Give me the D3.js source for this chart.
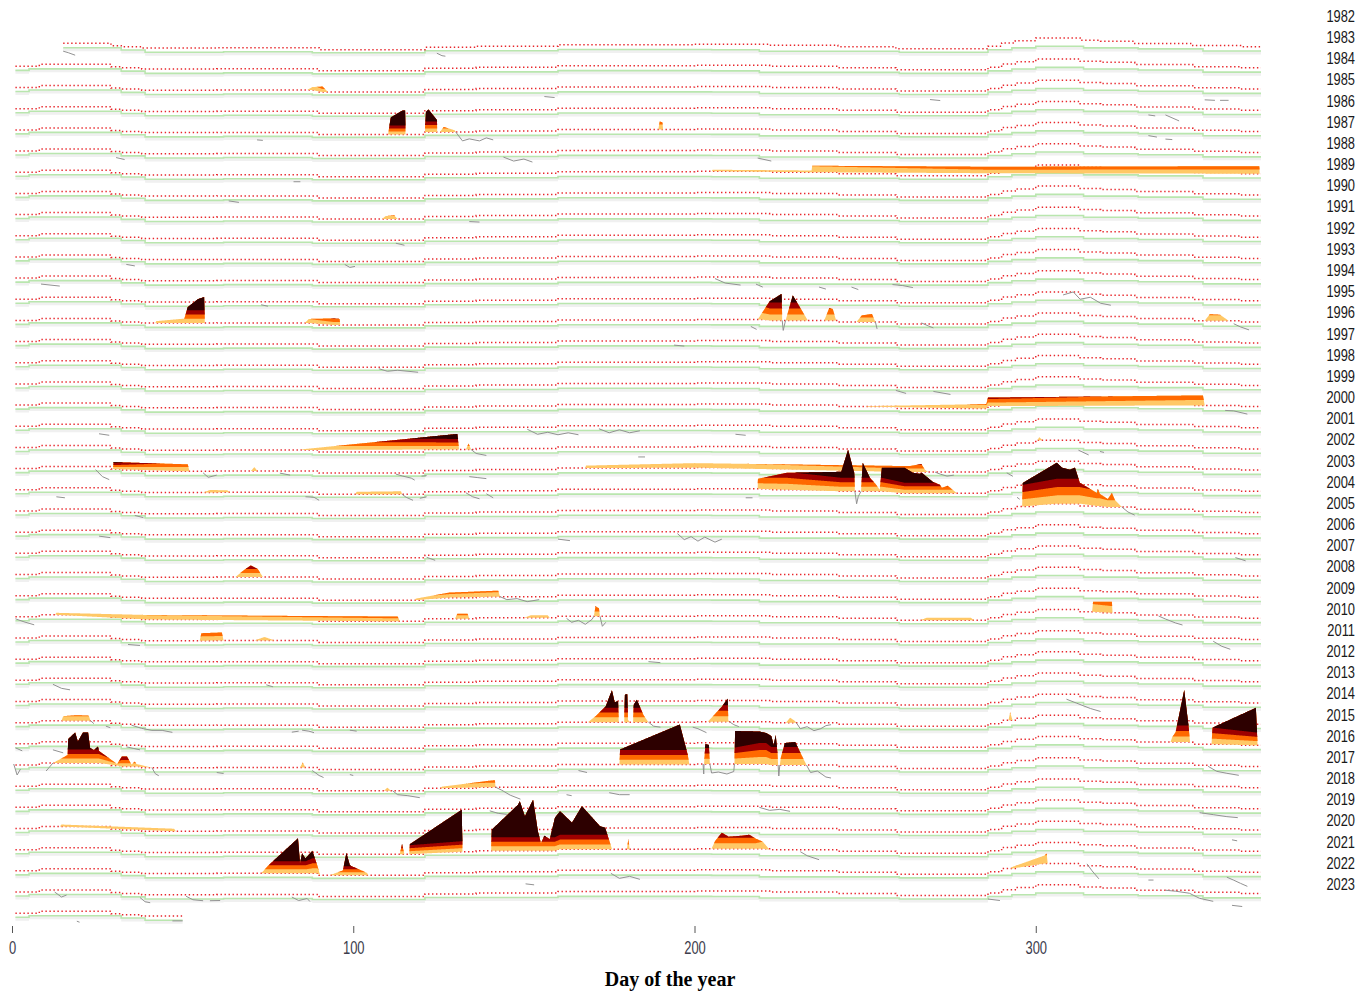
<!DOCTYPE html>
<html lang="en">
<head>
<meta charset="UTF-8">
<script src="https://d3js.org/d3.v7.min.js"></script>
<style>
  body { margin: 0; background: #fff; }
</style>
</head>
<body>
<svg id="chart" width="1360" height="992"></svg>
<script>

// one row per year
var years = [1982, 1983, 1984, 1985, 1986, 1987, 1988, 1989, 1990, 1991, 1992, 1993, 1994, 1995,
             1996, 1997, 1998, 1999, 2000, 2001, 2002, 2003, 2004, 2005, 2006, 2007, 2008, 2009,
             2010, 2011, 2012, 2013, 2014, 2015, 2016, 2017, 2018, 2019, 2020, 2021, 2022, 2023];
var firstRowStart = 15;   // series begins mid January 1982
var lastRowEnd = 50;      // and stops in February 2023
var dayTicks = [0, 100, 200, 300];

// seasonal threshold (red dotted) and climatology (green), degC, stepped by day of year
var threshDays = [0, 8, 29, 32, 38, 60, 90, 121, 136, 160, 200, 222, 242, 259, 286, 290, 294, 300, 313, 319, 329, 346, 360];
var threshTemp = [14.9, 15.3, 14.8, 14.6, 14.36, 14.4, 14.0, 14.5, 14.7, 15.0, 15.1, 14.9, 14.6, 14.2, 14.7, 15.36, 15.8, 16.36, 15.9, 15.7, 15.26, 14.84, 14.6];
var climDays = [0, 5, 32, 39, 62, 88, 121, 160, 205, 219, 260, 286, 293, 300, 314, 330, 349];
var climTemp = [14.1, 14.4, 13.94, 13.5, 13.6, 13.4, 13.8, 14.04, 14.0, 13.7, 13.5, 14.0, 14.36, 14.7, 14.36, 14.16, 13.74];

// heatwave events: [year, [[day, degC above threshold], ...]]
var heatwaves = [
  [1984, [[86.5,0],[88,0.6],[91,1.1],[92.6,0]]],
  [1986, [[110.2,0],[111,3.4],[112.5,4.0],[114.5,4.8],[115.2,4.8],[115.3,0]]],
  [1986, [[121,0],[121.3,4.0],[122,4.5],[124.5,2.4],[124.6,0]]],
  [1986, [[125.4,0],[126.5,1.0],[129.8,0.3],[130,0]]],
  [1986, [[189.4,0],[189.8,1.6],[190.6,1.4],[190.8,0]]],
  [1988, [[205,0],[205.3,0.3],[234.3,0.35],[234.5,1.3],[286,1.3],[365.5,1.5],[365.6,0]]],
  [1990, [[108.4,0],[109.5,0.6],[112,0.75],[113,0]]],
  [1995, [[42,0],[42.3,0.4],[50.5,0.9],[51.5,3.2],[54.5,4.8],[56.3,5.2],[56.5,0]]],
  [1995, [[85.8,0],[87,0.8],[94,1.3],[96,1.2],[96.2,0]]],
  [1995, [[218.5,0],[219,0.5],[222,3.8],[225.5,5.3],[225.7,0]]],
  [1995, [[226.7,0],[228.8,5.0],[233.2,0]]],
  [1995, [[238,0],[239.5,2.5],[240.5,2.3],[241.5,0]]],
  [1995, [[247.5,0],[249,1.3],[252,1.6],[253,0]]],
  [1995, [[349.5,0],[351,1.3],[354,1.2],[356.5,0]]],
  [1999, [[250,0],[250.5,0.1],[285.5,0.9],[286,1.7],[349,2.0],[349.5,0]]],
  [2001, [[84.5,0],[86,0.2],[130.5,3.1],[131,0]]],
  [2001, [[133,0],[133.8,1.2],[134.5,0]]],
  [2001, [[300.5,0],[301,0.6],[302,0]]],
  [2002, [[29.6,0],[29.8,1.4],[51.5,1.4],[52,0]]],
  [2002, [[70,0],[71,0.8],[72,0]]],
  [2002, [[168,0],[168.2,0.5],[200,0.9],[263,1.2],[266.5,1.6],[267.5,0.5],[268.5,0]]],
  [2003, [[56,0],[58,0.5],[63,0.4],[64,0]]],
  [2003, [[100.5,0],[101,0.5],[114,0.6],[114.3,0]]],
  [2003, [[218.5,0],[218.6,2.0],[227,3.4],[243,3.9],[245,8.3],[246.8,3.7],[247,0],[248.8,0],[249.3,5.7],[251.4,2.7],[253,1.5],[254.3,0.3],[254.9,4.7],[261.6,5.1],[264,4.1],[266,3.9],[266.6,4.1],[269.8,2.3],[271.9,1.7],[272.5,1.1],[274.2,1.5],[276.9,0]]],
  [2004, [[296,0],[296.2,4.7],[306.2,8.2],[307.7,7.2],[310,6.8],[311.5,7.2],[312.9,4.2],[317.9,2.6],[318.2,3.4],[318.8,2.4],[321.1,1.6],[322.3,2.8],[323.2,1.4],[325.2,0]]],
  [2007, [[65.5,0],[68,1.4],[70,2.3],[72,1.6],[73.5,0]]],
  [2008, [[118,0],[118.3,0.3],[128,1.0],[142.5,1.2],[143,0]]],
  [2009, [[12.6,0],[13,0.4],[40,0.9],[113,0.95],[113.7,0]]],
  [2009, [[129.8,0],[130.5,1.0],[133.5,1.0],[134,0]]],
  [2009, [[150,0],[152,0.5],[157,0.5],[157.6,0]]],
  [2009, [[170.5,0],[171,2.0],[172,1.6],[172.3,0]]],
  [2009, [[266,0],[268,0.5],[281,0.5],[282,0]]],
  [2009, [[316.5,0],[316.8,2.0],[322.3,2.2],[322.5,0]]],
  [2010, [[55,0],[55.5,1.5],[61.5,1.6],[62,0]]],
  [2010, [[71,0],[74,0.7],[77,0]]],
  [2014, [[14.5,0],[15,0.9],[19,1.1],[22.5,1.0],[23,0]]],
  [2014, [[168.8,0],[171,1.2],[174,3.2],[175.8,6.4],[176.6,4.0],[177.6,4.2],[177.8,0],[179.4,0],[179.6,5.5],[180.3,5.6],[180.5,0.5],[181,0],[182,0],[182.2,3.5],[183.1,4.5],[185,1.5],[186.5,0]]],
  [2014, [[203.9,0],[208,3.0],[209.7,4.6],[209.9,0.3],[210.2,0]]],
  [2014, [[226.8,0],[228,1.0],[229.5,0.3],[229.8,0]]],
  [2014, [[292,0],[292.5,1.6],[293.2,0]]],
  [2015, [[339.5,0],[340,1.0],[341,2.0],[343.5,10.4],[344.8,3.0],[345.2,0]]],
  [2015, [[351.5,0],[351.8,3.3],[364.5,7.5],[365,0]]],
  [2016, [[12,0],[16.3,1.6],[16.5,4.8],[18.5,6.1],[19.3,4.3],[20.8,6.1],[22.3,6.1],[22.9,3.0],[24,2.6],[25.2,3.3],[25.5,2.4],[30.8,0.3],[32.2,2.0],[33.7,2.0],[35,0.4],[36,1.0],[36.5,0.5],[41,0]]],
  [2016, [[84.4,0],[85.2,1.0],[86,0]]],
  [2016, [[178,0],[178.2,3.0],[195.7,8.0],[198,2.0],[198.5,0]]],
  [2016, [[202.8,0],[203.2,4.0],[204.2,3.8],[204.5,0]]],
  [2016, [[211.7,0],[211.9,6.6],[219,6.5],[221,6.2],[222.5,5.8],[223.2,4.0],[223.8,6.0],[224.3,2.5],[224.5,0]]],
  [2016, [[225,0],[225.3,1.5],[226.5,4.4],[229.5,4.6],[231,2.5],[232.8,0]]],
  [2017, [[109,0],[110,0.6],[111,0]]],
  [2017, [[125.4,0],[126,0.3],[140,1.3],[141.5,1.4],[141.7,0]]],
  [2019, [[14,0],[14.5,0.4],[47.5,0.5],[48,0]]],
  [2020, [[113.6,0],[114.3,2.0],[115,0]]],
  [2020, [[116.4,0],[116.6,2.0],[131.8,8.4],[132,0]]],
  [2020, [[140.4,0],[140.6,4.2],[148.3,9.2],[148.8,9.9],[150.3,6.9],[152.7,10.2],[154.1,3.9],[155,1.5],[156,3.0],[157.6,2.3],[159.1,6.6],[160.6,7.6],[164.1,5.3],[167,8.6],[172.3,4.6],[173.8,4.3],[175.6,0.5],[175.8,0]]],
  [2020, [[180.2,0],[180.6,2.0],[181,0]]],
  [2020, [[205,0],[206,1.5],[208,3.2],[210,2.4],[214,2.6],[216,2.8],[218,2.0],[220,1.4],[222,0]]],
  [2021, [[73,0],[75,1.5],[83.8,7.0],[84.4,2.0],[85,4.0],[86,3.0],[88,4.5],[89.5,1.5],[90.3,0]]],
  [2021, [[93,0],[97,1.0],[98,4.5],[99,2.0],[104,0.5],[104.5,0]]],
  [2021, [[292.5,0],[293,0.3],[302.5,1.6],[303.2,2.0],[303.5,0]]]
];

// stretches of SST below threshold that show as grey line: [year, [[day, degC vs threshold], ...]]
var sstDips = [
  [1982, [[15,-1.6],[16.5,-1.9],[18.5,-2.4]]], [1982, [[124.5,-1.2],[126,-1.7],[127,-1.8]]],
  [1984, [[156,-1.6],[159,-1.8]]], [1984, [[269,-1.7],[272,-1.9]]], [1984, [[349.5,-2.4],[352.5,-2.5]]], [1984, [[354,-2.5],[356.5,-2.5]]],
  [1985, [[333,-1.6],[335,-1.8]]], [1985, [[338,-1.6],[342,-2.8]]],
  [1986, [[333,-1.5],[335.5,-1.8]]], [1986, [[338,-2.2],[340,-2.3]]], [1986, [[71.8,-1.5],[73.5,-1.6]]],
  [1986, [[130,0],[132,-1.8],[134,-1.4],[137,-2.0],[139,-1.4],[141,-1.8]]],
  [1987, [[144,-1.0],[147,-1.8],[150,-1.4],[152.5,-2.0]]], [1987, [[30.5,-1.2],[33,-1.4]]], [1987, [[218.5,-1.6],[222.5,-2.0]]],
  [1988, [[82.5,-1.4],[84.5,-1.4]]],
  [1989, [[63.5,-1.0],[66.5,-1.3]]],
  [1990, [[134,-1.0],[137,-1.3]]],
  [1991, [[112.5,-0.6],[115,-1.0]]],
  [1992, [[33.5,-1.2],[36,-1.5]]], [1992, [[97.5,-0.6],[99,-1.2],[100.5,-1.0]]],
  [1993, [[206,-0.3],[209,-1.2],[213.5,-1.6]]], [1993, [[8.5,-1.6],[14,-2.0]]], [1993, [[218,-1.4],[220,-2.0]]],
  [1993, [[236.5,-1.8],[238.5,-2.2]]], [1993, [[246,-1.5],[248,-2.0]]], [1993, [[258,-1.0],[261,-0.8],[264,-1.2]]],
  [1994, [[308,-0.6],[311,0.0],[313,-1.0],[316,-0.6],[319,-1.6],[322,-2.0]]], [1994, [[73,-0.6],[75,-0.9]]],
  [1995, [[358,-0.6],[360,-1.0],[362.5,-1.6]]], [1995, [[216.5,-1.4],[218.2,-2.0]]], [1995, [[225.7,0],[226,-2.0],[226.5,-0.5],[226.7,0]]],
  [1995, [[253,0],[253.5,-1.4]]], [1995, [[266.5,0.2],[268.5,-0.4],[270,-0.8]]],
  [1996, [[194,-0.8],[197,-1.0]]],
  [1997, [[107.5,-0.3],[110,-0.8],[113,-0.6],[119,-1.0]]],
  [1998, [[259,-0.6],[262,-1.2]]], [1998, [[270,-0.8],[275,-1.4]]],
  [1999, [[355.5,-1.0],[358,-1.1],[362,-1.5]]],
  [2000, [[25.5,-1.9],[28.5,-2.2]]], [2000, [[151,-0.4],[154,-1.4],[157,-1.0],[160,-1.8],[163,-1.4],[166,-1.8]]],
  [2000, [[172,-0.6],[175,-1.4],[178,-0.8],[181,-1.4],[184,-1.0]]], [2000, [[212,-1.8],[215,-2.0]]],
  [2001, [[134.5,0],[136,-1.0],[139,-1.4]]], [2001, [[312.5,-2.0],[315.5,-2.5]]], [2001, [[318.8,-1.8],[320,-1.8]]], [2001, [[183.5,-2.0],[185.5,-2.0]]],
  [2002, [[24.5,-0.6],[26.5,-2.0],[28.5,-2.6]]], [2002, [[56,-0.3],[57.5,-1.2],[60,-0.8]]], [2002, [[78.5,-0.4],[81.5,-0.8]]],
  [2002, [[112.5,-0.2],[114.5,-0.6],[117,-1.0],[118,-1.4]]], [2002, [[120,-0.6],[121.5,-1.0]]], [2002, [[134,-1.2],[136.5,-1.6],[139,-1.8]]],
  [2002, [[270.5,0],[272,-0.4],[274,-0.8],[276,-0.6]]], [2002, [[291.5,-1.3],[293.3,-2.0]]],
  [2003, [[13,-1.8],[15.5,-2.0]]], [2003, [[247,0],[247.5,-2.5],[248,-1.0],[248.8,0]]], [2003, [[114.3,0],[115.5,-0.6],[117.5,-1.2]]],
  [2003, [[119.5,-0.8],[121.5,-1.0]]], [2003, [[86,-0.9],[88.5,-1.0],[90,-1.2]]], [2003, [[133,-0.2],[135,-1.0],[137,-1.6]]],
  [2003, [[139,-0.6],[141,-1.4]]], [2003, [[215,-1.8],[217,-1.8]]], [2003, [[294.5,-2.4],[295.3,-2.8]]],
  [2004, [[36,-0.6],[38.5,-0.8]]], [2004, [[325.2,0],[327,-1.0],[329,-1.2]]],
  [2005, [[25.5,-1.2],[28.8,-1.5]]], [2005, [[160,-1.5],[163.5,-1.8]]], [2005, [[195,-0.4],[197,-1.6],[199,-1.0],[201,-2.0],[203,-1.2],[206,-2.2],[208,-1.6]]],
  [2006, [[121.5,-0.4],[124,-1.0]]], [2006, [[358.5,-0.8],[361.5,-1.2]]],
  [2008, [[143,0],[145,-0.6],[148,-0.4],[151,-1.0],[154.5,-0.6]]],
  [2009, [[162.5,-0.4],[164,-1.2],[166,-0.8],[168,-1.6],[170,-0.6],[170.5,0]]], [2009, [[172.3,0],[173,-2.0],[174,-1.2]]],
  [2009, [[336,-0.2],[338,-0.8],[341,-1.6],[343,-2.0]]], [2009, [[1,-0.4],[3.5,-1.0],[6.5,-1.6]]],
  [2010, [[34,-1.0],[37.5,-1.2]]], [2010, [[352,-0.6],[354.5,-1.6],[357,-2.2]]],
  [2011, [[186.5,-0.6],[190,-0.8]]],
  [2012, [[12,-1.2],[14.5,-2.0],[17,-2.3]]], [2012, [[74.5,-0.4],[76.5,-0.8]]],
  [2013, [[309,-1.0],[312,-1.8],[316,-2.4],[319,-2.8]]],
  [2014, [[23,0],[24,-0.6]]], [2014, [[27.5,-1.1],[28.8,-1.4]]], [2014, [[35,-0.2],[38,-0.6],[41,-1.0],[44,-1.0],[47,-1.4]]],
  [2014, [[82,-1.4],[84,-1.2]]], [2014, [[85,-1.0],[87,-1.2],[88.5,-1.5]]], [2014, [[99,-0.6],[101,-0.8]]],
  [2014, [[186.5,0],[188,-0.8],[190,-1.0]]], [2014, [[210.2,0],[211.5,-0.6],[213,-1.0]]],
  [2014, [[229.8,0],[231,-1.2],[233,-0.8],[235,-1.6],[237,-1.2],[238.5,-0.6],[240,-0.4]]], [2014, [[199.5,-1.0],[201,-1.4],[203.5,-2.2]]],
  [2015, [[12,-1.6],[15,-2.2]]], [2015, [[33.5,-0.3],[35.5,-0.6],[37.5,-0.9]]], [2015, [[1,-0.8],[3,-1.4]]],
  [2016, [[10,-1.6],[11,-0.8],[12,0]]], [2016, [[41,0],[42,-1.2],[43,-1.6]]], [2016, [[60,-1.0],[62,-1.2]]],
  [2016, [[88,-0.6],[90,-1.2],[91.3,-1.6]]], [2016, [[99,-1.0],[100,-1.2]]], [2016, [[166,-1.2],[168.5,-1.6]]],
  [2016, [[202.5,0],[202.7,-2.0],[202.8,0]]], [2016, [[204.5,0],[205,-1.8],[207,-1.6],[209.5,-2.0],[211.5,-1.5],[211.7,0]]],
  [2016, [[224.5,0],[224.7,-2.2],[225,0]]], [2016, [[232.8,0],[234,-1.5],[236,-1.2],[238.5,-2.4],[240,-2.6]]],
  [2016, [[350.5,-0.2],[353,-1.2],[356,-1.6],[359.5,-2.0]]], [2016, [[0.5,0.2],[1.5,-2.0],[2.5,-0.8]]],
  [2017, [[111.5,0],[113,-0.8],[116,-1.0],[119.5,-1.4]]], [2017, [[141.7,0],[143.5,-0.6],[146,-1.6],[149,-2.4]]],
  [2017, [[162.5,-1.8],[164,-2.0]]], [2017, [[175,-1.4],[178,-1.8],[181,-1.8]]],
  [2018, [[219,-0.2],[222,-0.6],[225,-0.4],[228,-0.8]]], [2018, [[348,-1.0],[352,-1.4],[356,-1.8],[359.2,-2.0]]], [2018, [[140,-0.5],[142.5,-1.0],[145,-1.2]]],
  [2019, [[357.5,-2.2],[359,-2.4]]],
  [2020, [[231,-0.4],[233,-1.2],[236.5,-2.0]]],
  [2021, [[315,0.4],[316.5,-1.0],[318.5,-2.6]]], [2021, [[175.5,-0.6],[178,-1.6],[181,-1.2],[184,-1.8]]], [2021, [[150.5,-2.4],[153,-2.6]]],
  [2021, [[333,-2.2],[334.5,-2.2]]], [2021, [[356,-1.2],[358,-1.8],[360,-2.2],[362,-2.8]]],
  [2022, [[12.5,-0.4],[14.5,-1.4],[16,-1.0]]], [2022, [[286,-1.2],[289.5,-1.5]]], [2022, [[37.5,-0.8],[39,-1.4],[40.5,-1.6]]],
  [2022, [[51,-0.3],[53,-1.0],[56,-1.2]]], [2022, [[58,-1.2],[61,-1.2]]], [2022, [[82,-0.5],[84,-1.2],[86.5,-0.8],[87.3,-1.4]]],
  [2022, [[338,0],[341,-0.2],[345,-0.6],[348,-1.2],[352,-1.8]]], [2022, [[357.5,-2.6],[360.5,-2.6]]],
  [2023, [[19,-2.0],[19.8,-2.2]]], [2023, [[47,-1.0],[50,-1.0]]]
];

var catColors = ["#ffc866", "#ff6900", "#9e0000", "#2d0000"];

var svg = d3.select("#chart");

var x = d3.scaleLinear().domain([0, 366]).range([12, 1261]);
var yYear = d3.scalePoint().domain(years).range([16, 884]);
// offset of a temperature inside its year row
var yTemp = d3.scaleLinear().domain([15, 20]).range([28.7, 3.7]);
function Y(year, t) { return yYear(year) + yTemp(t); }

function stepLookup(days, vals) {
  return function(d) {
    var i = d3.bisectRight(days, d) - 1;
    return vals[Math.max(0, i)];
  };
}
var thrAt = stepLookup(threshDays, threshTemp);
var climAt = stepLookup(climDays, climTemp);

function rowDays(year, knots) {
  var s = year === years[0] ? firstRowStart : 1;
  var e = year === years[years.length - 1] ? lastRowEnd : 366;
  return [s].concat(knots.filter(function(k) { return k > s && k < e; })).concat([e]);
}

var gLines = svg.append("g");

years.forEach(function(yr) {
  var cd = rowDays(yr, climDays);
  var td = rowDays(yr, threshDays);

  // faint shadow under climatology
  gLines.append("path")
    .attr("d", d3.area().curve(d3.curveStepAfter)
      .x(function(d) { return x(d); })
      .y0(function(d) { return Y(yr, climAt(d)); })
      .y1(function(d) { return Y(yr, climAt(d) - 0.7); })(cd))
    .attr("fill", "#f0f0f0");

  gLines.append("path")
    .attr("d", d3.line().curve(d3.curveStepAfter)
      .x(function(d) { return x(d); })
      .y(function(d) { return Y(yr, climAt(d)); })(cd))
    .attr("fill", "none")
    .attr("stroke", "#b9e6ae")
    .attr("stroke-width", 1.6);

  gLines.append("path")
    .attr("d", d3.line().curve(d3.curveStepAfter)
      .x(function(d) { return x(d); })
      .y(function(d) { return Y(yr, thrAt(d)); })(td))
    .attr("fill", "none")
    .attr("stroke", "#e8262b")
    .attr("stroke-width", 1.5)
    .attr("stroke-dasharray", "1.4,2.6");
});

// the flame polygon joins its own points with straight lines (threshold too),
// so sample those straight segments finely before cutting into category bands
function flamePoints(pts) {
  var base = pts.map(function(p) {
    var t = thrAt(p[0]);
    return { d: p[0], e: p[1], t: t, diff: t - climAt(p[0]) };
  });
  var out = [];
  for (var i = 0; i < base.length - 1; i++) {
    var a = base[i], b = base[i + 1];
    var n = Math.max(1, Math.ceil((b.d - a.d) / 0.15));
    for (var j = 0; j < n; j++) {
      var f = j / n;
      out.push({
        d: a.d + f * (b.d - a.d),
        e: a.e + f * (b.e - a.e),
        t: a.t + f * (b.t - a.t),
        diff: a.diff + f * (b.diff - a.diff)
      });
    }
  }
  out.push(base[base.length - 1]);
  return out;
}

var gEvents = svg.append("g");
heatwaves.forEach(function(ev) {
  var yr = ev[0];
  var pts = flamePoints(ev[1]);
  catColors.forEach(function(col, k) {
    var area = d3.area()
      .x(function(p) { return x(p.d); })
      .y0(function(p) { return Y(yr, p.t + k * p.diff); })
      .y1(function(p) { return Y(yr, p.t + Math.max(p.e, k * p.diff)); });
    gEvents.append("path")
      .attr("d", area(pts))
      .attr("fill", col);
  });
});

var gSst = svg.append("g");
sstDips.forEach(function(s) {
  var yr = s[0];
  gSst.append("path")
    .attr("d", d3.line()
      .x(function(p) { return x(p[0]); })
      .y(function(p) { return Y(yr, thrAt(p[0]) + p[1]); })(s[1]))
    .attr("fill", "none")
    .attr("stroke", "#929292")
    .attr("stroke-width", 1);
});

// year labels on the right, narrow type
svg.append("g").selectAll("text")
  .data(years)
  .enter().append("text")
    .attr("transform", function(d) { return "translate(1355," + yYear(d) + ") scale(0.78,1)"; })
    .attr("dy", "0.36em")
    .attr("text-anchor", "end")
    .attr("font-family", "Liberation Sans, Arial, sans-serif")
    .attr("font-size", 16.5)
    .attr("fill", "#1a1a1a")
    .text(function(d) { return d; });

// x axis
var xAxis = svg.append("g")
  .attr("transform", "translate(0,926)")
  .call(d3.axisBottom(x).tickValues(dayTicks).tickSize(7).tickPadding(8));
xAxis.select(".domain").remove();
xAxis.selectAll(".tick line").attr("stroke", "#555");
xAxis.selectAll(".tick text")
  .attr("font-family", "Liberation Sans, Arial, sans-serif")
  .attr("font-size", 18)
  .attr("fill", "#3d3d4d")
  .attr("transform", "scale(0.72,1)");

svg.append("text")
  .attr("x", 670)
  .attr("y", 986)
  .attr("text-anchor", "middle")
  .attr("font-family", "Liberation Serif, Times New Roman, serif")
  .attr("font-weight", "bold")
  .attr("font-size", 20)
  .attr("fill", "#000")
  .text("Day of the year");

</script>
</body>
</html>
